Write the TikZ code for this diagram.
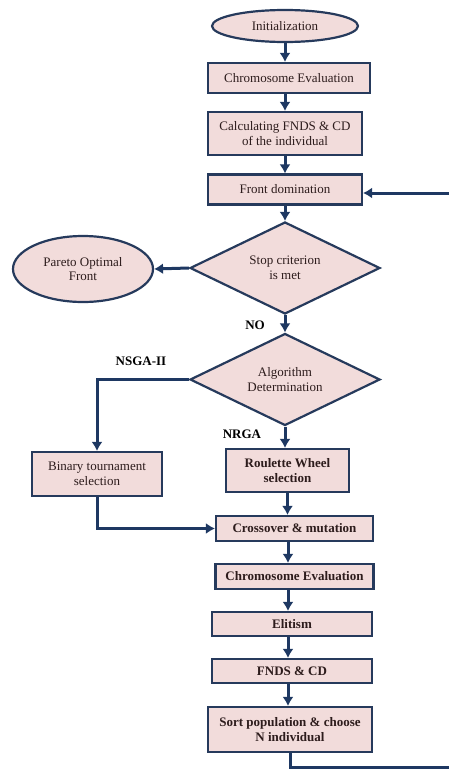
\documentclass[tikz,border=0pt]{standalone}
\usepackage{fontspec}
\setmainfont{Liberation Serif}
\usetikzlibrary{shapes.geometric,arrows.meta}
\definecolor{boxfill}{RGB}{242,220,219}
\definecolor{boxline}{RGB}{38,58,92}
\definecolor{flowline}{RGB}{30,56,98}
\definecolor{txt}{RGB}{45,28,28}

\begin{document}
\begin{tikzpicture}[x=1pt, y=-1pt,
	every node/.style = {font=\fontsize{13}{14.5}\selectfont, text=txt, align=center},
	box/.style = {draw=boxline, line width=2.2pt, fill=boxfill, inner sep=0pt},
	boldbox/.style = {box, font=\fontsize{13}{14.5}\selectfont\bfseries},
	oval/.style = {ellipse, draw=boxline, line width=2.2pt, fill=boxfill, inner sep=0pt},
	decision/.style = {diamond, draw=boxline, line width=2.2pt, fill=boxfill, aspect=2.05, minimum width=190pt, minimum height=92pt, inner sep=0pt},
	lab/.style = {font=\fontsize{13}{14.5}\selectfont\bfseries, text=black},
	flow/.style = {-{Latex[length=9pt,width=11pt]}, draw=flowline, line width=3pt}]
	\useasboundingbox (0,0) rectangle (448,769);
	% upper part
	\node [oval, minimum width=146pt, minimum height=32pt] (init) at (285,26) {Initialization};
	\node [box, minimum width=162pt, minimum height=30pt] (eval1) at (289,78) {Chromosome Evaluation};
	\node [box, minimum width=154pt, minimum height=43pt] (fnds1) at (285,133.5) {Calculating FNDS \& CD\\of the individual};
	\node [box, minimum width=154pt, minimum height=30pt] (front) at (285,189.5) {Front domination};
	\node [decision] (stop) at (285,268) {Stop criterion\\is met};
	\node [oval, minimum width=140pt, minimum height=66pt] (pareto) at (83,269) {Pareto Optimal\\Front};
	\node [decision] (algo) at (285,379.5) {Algorithm\\Determination};
	\node [lab] (no) at (255,325) {NO};
	\node [lab] (nsga) at (141,361) {NSGA-II};
	\node [lab] (nrga) at (242,434) {NRGA};
	% lower part
	\node [box, minimum width=130pt, minimum height=44pt] (binary) at (97,474) {Binary tournament\\selection};
	\node [boldbox, minimum width=123pt, minimum height=43pt] (roul) at (287.5,470.5) {Roulette Wheel\\selection};
	\node [boldbox, minimum width=157pt, minimum height=25pt] (cross) at (294.5,528.5) {Crossover \& mutation};
	\node [boldbox, minimum width=158pt, minimum height=25pt] (eval2) at (294.5,576.5) {Chromosome Evaluation};
	\node [boldbox, minimum width=160pt, minimum height=24pt] (elit) at (292,624) {Elitism};
	\node [boldbox, minimum width=160pt, minimum height=24pt] (fnds2) at (292,671) {FNDS \& CD};
	\node [boldbox, minimum width=164pt, minimum height=45pt] (sort) at (290,729.5) {Sort population \& choose\\N individual};
	\coordinate (col) at (288,0);
	\coordinate (loopbot) at (452,767);
	\coordinate (looptop) at (452,193);
	% connectors
	\draw [flow] (init.south) -- (init.south |- eval1.north);
	\draw [flow] (init.south |- eval1.south) -- (init.south |- fnds1.north);
	\draw [flow] (fnds1.south) -- (front.north);
	\draw [flow] (front.south) -- (stop.north);
	\draw [flow] (stop.west) -- (pareto.east);
	\draw [flow] (stop.south) -- (algo.north);
	\draw [flow] (algo.west) -| (binary.north);
	\draw [flow] (algo.south) -- (algo.south |- roul.north);
	\draw [flow] (roul.south) -- (roul.south |- cross.north);
	\draw [flow] (binary.south) |- (cross.west);
	\draw [flow] (col |- cross.south) -- (col |- eval2.north);
	\draw [flow] (col |- eval2.south) -- (col |- elit.north);
	\draw [flow] (col |- elit.south) -- (col |- fnds2.north);
	\draw [flow] (col |- fnds2.south) -- (col |- sort.north);
	\draw [flow] (sort.south) |- (loopbot) -- (looptop) -- (front.east |- looptop);
\end{tikzpicture}
\end{document}
